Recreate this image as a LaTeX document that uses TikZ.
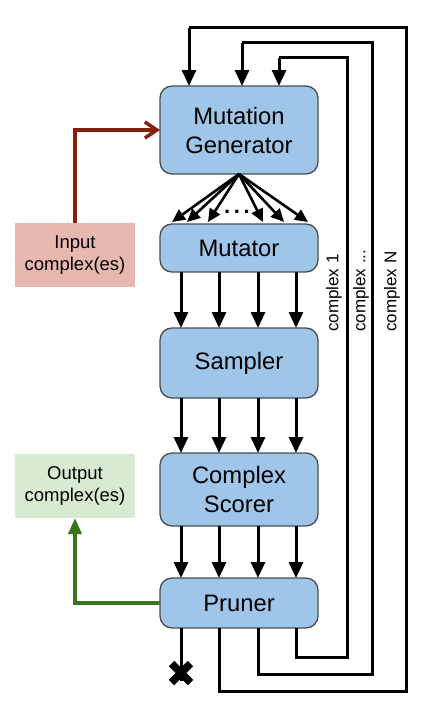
\documentclass[tikz,border=0pt]{standalone}
\usepackage{fontspec}
\setmainfont{Liberation Sans}
\usetikzlibrary{arrows.meta}
\definecolor{boxblue}{HTML}{9FC5E8}
\definecolor{boxedge}{HTML}{4D4D4D}
\definecolor{inred}{HTML}{E6B8AF}
\definecolor{outgreen}{HTML}{D9EAD3}
\definecolor{redline}{HTML}{85200C}
\definecolor{greenline}{HTML}{38761D}
\begin{document}
\begin{tikzpicture}[x=1pt,y=-1pt,
  stage/.style={draw=boxedge, line width=1.3pt, fill=boxblue, rounded corners=12pt,
    minimum width=158pt, inner sep=0pt, outer sep=0pt, align=center,
    font=\fontsize{23.8}{29}\selectfont},
  iobox/.style={minimum width=120pt, minimum height=64pt, inner sep=0pt, outer sep=0pt,
    align=center, font=\fontsize{18.5}{22}\selectfont},
  flow/.style={line width=3pt, -{Triangle[length=16pt,width=14pt]}},
  fanarrow/.style={line width=2.6pt, -{Triangle[length=13pt,width=12pt]}},
  loopline/.style={line width=3pt},
  side/.style={rotate=90, anchor=west, inner sep=0pt, font=\fontsize{17}{20}\selectfont},
  crossline/.style={line width=7.5pt},
]
\useasboundingbox (0,0) rectangle (423,717);

% stage boxes
\node[stage, minimum height=88pt] (mg) at (239,130) {Mutation\\Generator};
\node[stage, minimum height=48pt] (mut) at (239,248) {Mutator};
\node[stage, minimum height=70pt] (samp) at (239,363) {Sampler};
\node[stage, minimum height=73pt] (sc) at (239,489.5) {Complex\\Scorer};
\node[stage, minimum height=50pt] (pr) at (239,603) {Pruner};

% input / output
\node[iobox, fill=inred] (inp) at (75,255) {Input\\complex(es)};
\node[iobox, fill=outgreen] (out) at (75,486) {Output\\complex(es)};

% column coordinates
\coordinate (c1) at (181,0);
\coordinate (c2) at (219,0);
\coordinate (c3) at (258,0);
\coordinate (c4) at (296,0);

% fan from generator to mutator
\coordinate (f1) at (172,222);
\coordinate (f2) at (187,222);
\coordinate (f3) at (208,222);
\coordinate (f4) at (263,222);
\coordinate (f5) at (284,222);
\coordinate (f6) at (308,222);
\foreach \f in {f1,f2,f3,f4,f5,f6}
  \draw[fanarrow] (mg.south) -- (\f);
\node[font=\bfseries\fontsize{22}{22}\selectfont, inner sep=0pt] (dots) at (237,212) {.\,.\,.};

% parallel arrows between stages
\foreach \c in {c1,c2,c3,c4} {
  \draw[flow] (\c |- mut.south) -- (\c |- samp.north);
  \draw[flow] (\c |- samp.south) -- (\c |- sc.north);
  \draw[flow] (\c |- sc.south) -- (\c |- pr.north);
}

% input and output connectors
\draw[line width=3.5pt, redline, -{Straight Barb[length=12pt,width=16pt]}] (inp.north) |- (mg.west);
\draw[line width=3.5pt, greenline, -{Triangle[length=16pt,width=13pt]}] (pr.west) -| (out.south);

% discarded output
\coordinate (xm) at (181,673);
\draw[loopline] (c1 |- pr.south) -- ([yshift=-8pt]xm);
\draw[crossline] ([xshift=-9.5pt,yshift=-9.5pt]xm) -- ([xshift=9.5pt,yshift=9.5pt]xm);
\draw[crossline] ([xshift=-9.5pt,yshift=9.5pt]xm) -- ([xshift=9.5pt,yshift=-9.5pt]xm);

% feedback loops
\coordinate (oR) at (406,691);
\coordinate (oT) at (189,28);
\coordinate (mR) at (372,674);
\coordinate (mT) at (242,43);
\coordinate (iR) at (347,657);
\coordinate (iT) at (279,58);
\draw[loopline] (c2 |- pr.south) |- (oR) |- (oT);
\draw[flow] (oT) -- (oT |- mg.north);
\draw[loopline] (c3 |- pr.south) |- (mR) |- (mT);
\draw[flow] (mT) -- (mT |- mg.north);
\draw[loopline] (c4 |- pr.south) |- (iR) |- (iT);
\draw[flow] (iT) -- (iT |- mg.north);

% loop labels
\node[side] (l1) at (334,332) {complex 1};
\node[side] (l2) at (361,332) {complex ...};
\node[side] (l3) at (392,332) {complex N};
\end{tikzpicture}
\end{document}
